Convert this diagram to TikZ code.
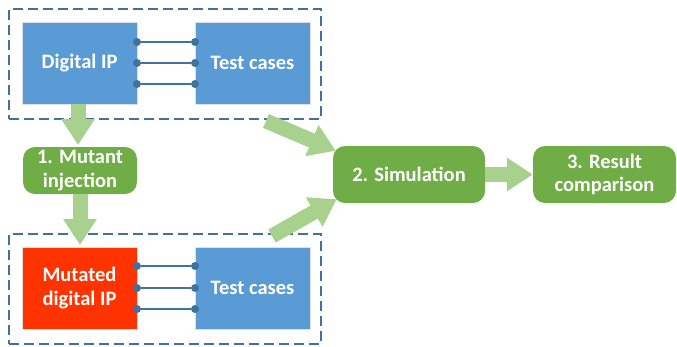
\documentclass[tikz,border=0pt]{standalone}
\usepackage{fontspec}
\setmainfont{Carlito}
\usetikzlibrary{arrows.meta,calc}
\definecolor{boxblue}{HTML}{5B9BD5}
\definecolor{boxred}{HTML}{FF3300}
\definecolor{boxgreen}{HTML}{70AD47}
\definecolor{arrgreen}{HTML}{A9D18E}
\definecolor{dashblue}{HTML}{41719C}
\begin{document}
\begin{tikzpicture}[x=1pt,y=-1pt,
  txt/.style={text=white,font=\fontsize{20.5}{23.5}\selectfont\bfseries,align=center,inner sep=0pt},
  sqbox/.style={txt,draw=white!75!gray,line width=0.8pt,minimum width=115pt,minimum height=82pt},
  bluebox/.style={sqbox,fill=boxblue},
  redbox/.style={sqbox,fill=boxred},
  greenbox/.style={txt,fill=boxgreen,rounded corners=12pt},
  group/.style={draw=dashblue,line width=1.3pt,dash pattern=on 10pt off 5pt,minimum width=312pt,minimum height=110pt,inner sep=0pt},
  bigarrow/.style={draw=arrgreen,line width=15pt,-{Triangle[length=26pt,width=32pt]}},
  wire/.style={draw=dashblue,line width=1.4pt},
  pin/.style={circle,fill=dashblue,inner sep=0pt,minimum size=8pt}
]
\useasboundingbox (0,0) rectangle (677,346);
% groups
\node[group] (topgrp) at (165,64) {};
\node[group] (botgrp) at (165,289) {};
% boxes
\node[bluebox] (dig) at (79.5,63) {Digital IP};
\node[bluebox] (tc1) at (252.5,63) {Test cases};
\node[redbox] (mutd) at (79.5,288) {Mutated\\digital IP};
\node[bluebox] (tc2) at (252.5,288) {Test cases};
\node[greenbox,minimum width=114pt,minimum height=47pt] (mut) at (80,170.5) {1. Mutant\\injection};
\node[greenbox,minimum width=152pt,minimum height=57pt] (sim) at (409,174.5) {2. Simulation};
\node[greenbox,minimum width=143pt,minimum height=57pt] (res) at (604.5,174.5) {3. Result\\comparison};
% wires
\foreach \i/\yy in {1/42,2/63,3/84}{
  \node[pin] (a\i) at (137,\yy) {};
  \node[pin] (b\i) at (195,\yy) {};
  \draw[wire] (a\i) -- (b\i);
}
\foreach \i/\yy in {1/266,2/288,3/309}{
  \node[pin] (c\i) at (137,\yy) {};
  \node[pin] (d\i) at (195,\yy) {};
  \draw[wire] (c\i) -- (d\i);
}
% arrows
\draw[bigarrow,shorten >=1pt] (dig.south -| 78,0) -- (78,146);
\draw[bigarrow,shorten >=1pt] (mut.south -| 80,0) -- (80,246);
\coordinate (u1) at (266,121);
\coordinate (l1) at (272,236);
\draw[bigarrow] (u1) -- ($(sim.north west)+(3,5)$);
\draw[bigarrow] (l1) -- ($(sim.south west)+(4,-4)$);
\draw[bigarrow] (sim.east) -- (res.west);
\end{tikzpicture}
\end{document}
